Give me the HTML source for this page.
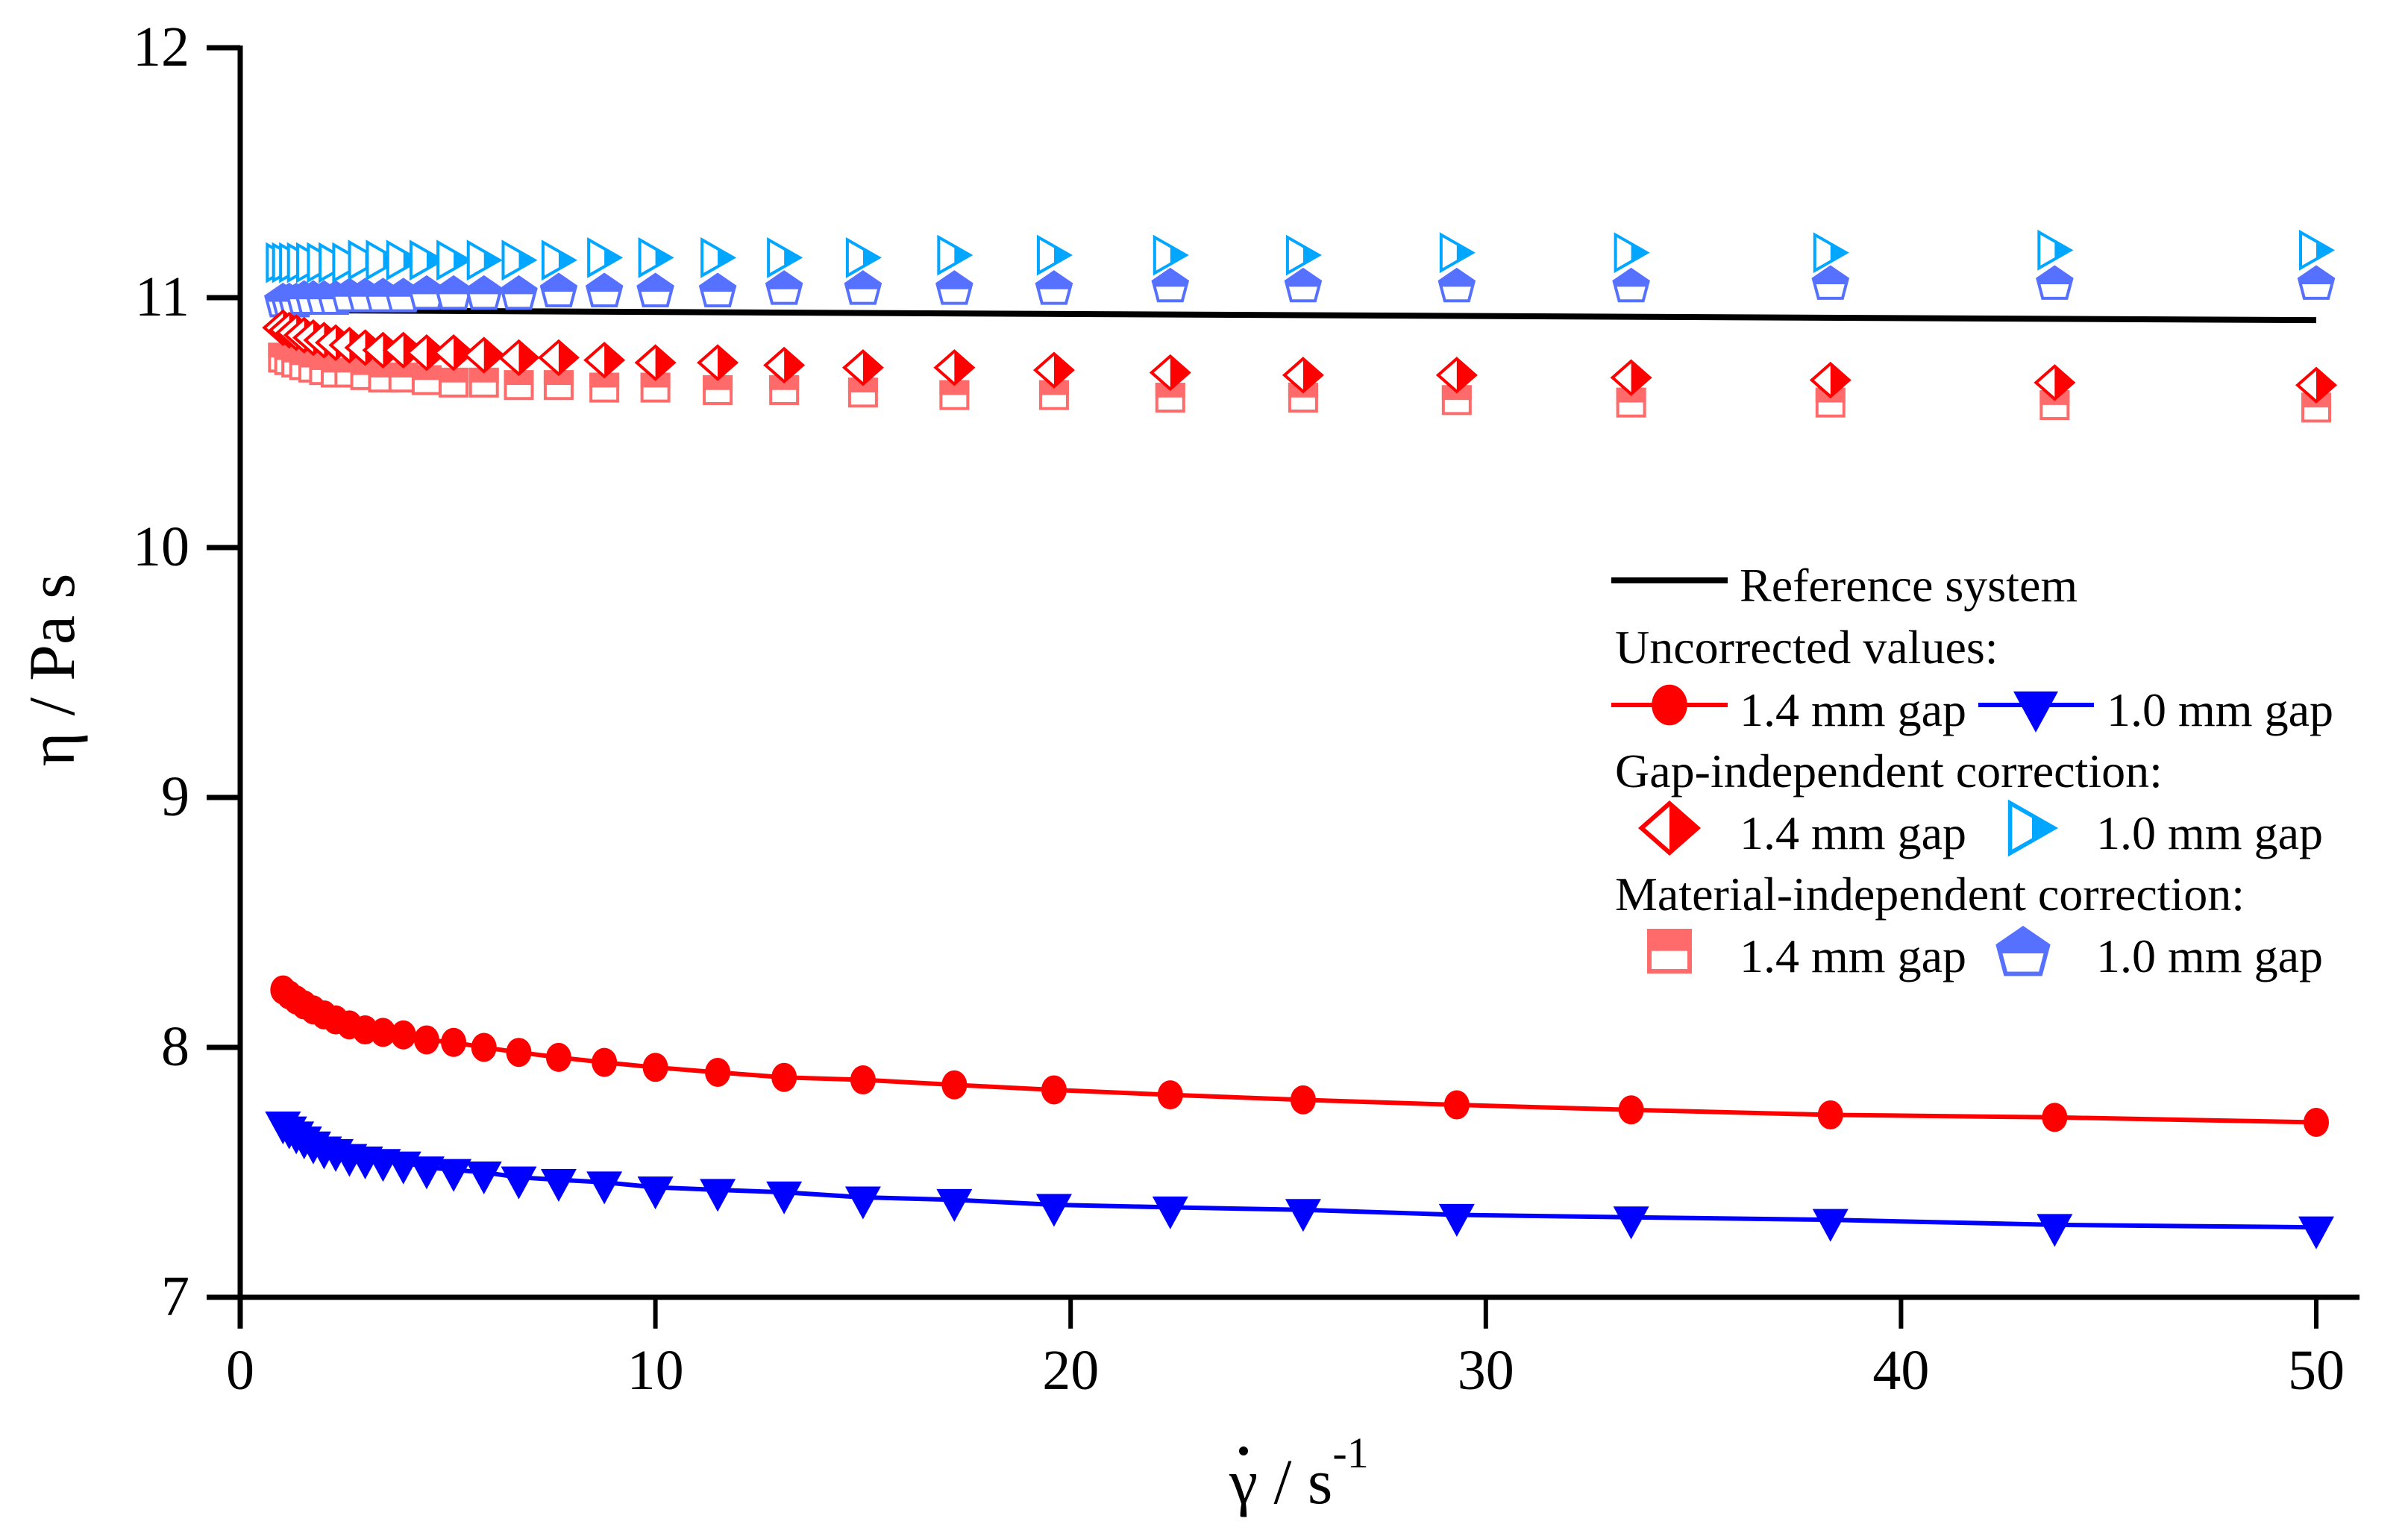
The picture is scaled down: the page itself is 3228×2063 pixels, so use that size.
<!DOCTYPE html>
<html><head><meta charset="utf-8"><style>
html,body{margin:0;padding:0;background:#fff;}
svg{display:block;}
svg text{font-family:"Liberation Serif","Times New Roman",serif;}
</style></head><body>
<svg id="chart" width="3228" height="2063" viewBox="0 0 3228 2063" font-family="Liberation Serif, serif">
<g id="axes"></g>
<g id="marks"></g>
<g id="legend"></g>
</svg>
<script>
const shearRates = [1.03, 1.18, 1.35, 1.54, 1.76, 2.02, 2.30, 2.63, 3.01, 3.44, 3.93, 4.49, 5.14, 5.87, 6.71, 7.67, 8.77, 10.0, 11.5, 13.1, 15.0, 17.2, 19.6, 22.4, 25.6, 29.3, 33.5, 38.3, 43.7, 50];
const refX = [1, 50];
const refY = [10.95, 10.91];
const uncorr14 = [8.23,8.21,8.19,8.17,8.15,8.13,8.11,8.09,8.07,8.06,8.05,8.03,8.02,8.00,7.98,7.96,7.94,7.92,7.90,7.88,7.87,7.85,7.83,7.81,7.79,7.77,7.75,7.73,7.72,7.70];
const uncorr10 = [7.70,7.68,7.66,7.64,7.62,7.60,7.59,7.57,7.56,7.55,7.54,7.52,7.51,7.50,7.48,7.47,7.46,7.44,7.43,7.42,7.40,7.39,7.37,7.36,7.35,7.33,7.32,7.31,7.29,7.28];
const gap14 = [10.88,10.87,10.86,10.85,10.84,10.83,10.82,10.81,10.80,10.79,10.79,10.78,10.78,10.77,10.76,10.76,10.75,10.74,10.74,10.73,10.72,10.72,10.71,10.70,10.69,10.69,10.68,10.67,10.66,10.65];
const gap10 = [11.14,11.14,11.14,11.14,11.14,11.14,11.14,11.14,11.15,11.15,11.15,11.15,11.15,11.15,11.15,11.15,11.16,11.16,11.16,11.16,11.16,11.17,11.17,11.17,11.17,11.18,11.18,11.18,11.19,11.19];
const mat14 = [10.76,10.75,10.74,10.73,10.72,10.71,10.70,10.70,10.69,10.68,10.68,10.67,10.66,10.66,10.65,10.65,10.64,10.64,10.63,10.63,10.62,10.61,10.61,10.60,10.60,10.59,10.58,10.58,10.57,10.56];
const mat10 = [10.99,10.99,10.99,11.00,11.00,11.00,11.00,11.01,11.01,11.01,11.01,11.02,11.02,11.02,11.02,11.03,11.03,11.03,11.03,11.04,11.04,11.04,11.04,11.05,11.05,11.05,11.05,11.06,11.06,11.06];
const xTicks = [0, 10, 20, 30, 40, 50];
const yTicks = [7, 8, 9, 10, 11, 12];

const NS = "http://www.w3.org/2000/svg";
const FONT = "Liberation Serif, serif";
const X0 = 322, X1 = 3105, Y7 = 1739, Y12 = 64;
function sx(v){ return X0 + (v - 0) / 50 * (X1 - X0); }
function sy(v){ return Y7 - (v - 7) / 5 * (Y7 - Y12); }
function mk(tag, attrs, parent){ const e = document.createElementNS(NS, tag); for (const k in attrs) e.setAttribute(k, attrs[k]); parent.appendChild(e); return e; }

const axes = document.getElementById('axes');
const marks = document.getElementById('marks');
const legend = document.getElementById('legend');

let yl = mk('line', {x1: X0, y1: Y12 - 3, x2: X0, y2: Y7 + 42, stroke: '#000', 'stroke-width': 7}, axes);


let xl = mk('line', {x1: X0 - 45, y1: Y7, x2: 3163, y2: Y7, stroke: '#000', 'stroke-width': 7}, axes);



yTicks.forEach(t => {
  const y = sy(t);
  const tk = mk('line', {x1: X0 - 45, y1: y, x2: X0, y2: y, stroke: '#000', 'stroke-width': 7}, axes);
  
  
  const tx = mk('text', {x: 254, y: y + 24, 'font-size': 76, 'text-anchor': 'end', 'font-family': FONT}, axes);
  tx.textContent = String(t);
  
  
});
xTicks.forEach(t => {
  const x = sx(t);
  const tk = mk('line', {x1: x, y1: Y7, x2: x, y2: Y7 + 42, stroke: '#000', 'stroke-width': 6}, axes);
  
  
  const tx = mk('text', {x: x, y: 1862, 'font-size': 76, 'text-anchor': 'middle', 'font-family': FONT}, axes);
  tx.textContent = String(t);
  
  
});
let yt = mk('text', {x: 0, y: 0, 'font-size': 88, 'text-anchor': 'middle', 'font-family': FONT, transform: 'translate(99,898) rotate(-90)'}, axes);
yt.textContent = 'η / Pa s';


let xt = mk('text', {x: 1648, y: 2015, 'font-size': 86, 'font-family': FONT}, axes);
xt.innerHTML = 'γ / s<tspan dy="-48" font-size="58">-1</tspan>';


let dot = mk('circle', {cx: 1667, cy: 1945, r: 6, fill: '#000'}, axes);



function circle(g, x, y, s){ mk('ellipse', {cx: x, cy: y, rx: 17*s, ry: 19.5*s, fill: '#ff0000'}, g); }
function triDown(g, x, y, s){ const w=24*s, h=44*s; mk('polygon', {points: `${x-w},${y-h*0.33} ${x+w},${y-h*0.33} ${x},${y+h*0.67}`, fill: '#0000ff'}, g); }
function diamond(g, x, y, s){ const w=25*s, h=22*s;
  mk('polygon', {points: `${x},${y-h} ${x+w},${y} ${x},${y+h} ${x-w},${y}`, fill: '#fff', stroke: '#ff0000', 'stroke-width': 4*s}, g);
  mk('polygon', {points: `${x},${y-h} ${x+w},${y} ${x},${y+h}`, fill: '#ff0000'}, g); }
function triRight(g, x, y, s){ const w=21*s, h=24*s;
  mk('polygon', {points: `${x-w},${y-h} ${x+w},${y} ${x-w},${y+h}`, fill: '#fff', stroke: '#00a6ff', 'stroke-width': 4*s}, g);
  mk('polygon', {points: `${x},${y-h*0.5} ${x+w},${y} ${x},${y+h*0.5}`, fill: '#00a6ff'}, g); }
function square(g, x, y, s){ const w=18*s, h=18*s;
  mk('rect', {x: x-w, y: y-h, width: 2*w, height: 2*h, fill: '#fff', stroke: '#ff6b6b', 'stroke-width': 4*s}, g);
  mk('rect', {x: x-w-2*s, y: y-h-2*s, width: 2*w+4*s, height: h*1.1, fill: '#ff6b6b'}, g); }
function pentagon(g, x, y, s){ const w=23*s, h=21*s;
  mk('polygon', {points: `${x},${y-h} ${x+w},${y-h*0.25} ${x+w*0.7},${y+h} ${x-w*0.7},${y+h} ${x-w},${y-h*0.25}`, fill: '#fff', stroke: '#5670ff', 'stroke-width': 4*s}, g);
  mk('polygon', {points: `${x},${y-h-2*s} ${x+w+2*s},${y-h*0.25} ${x+w*0.93},${y+h*0.1} ${x-w*0.93},${y+h*0.1} ${x-w-2*s},${y-h*0.25}`, fill: '#5670ff'}, g); }

function series(name, vals, color, drawer, line){
  const g = mk('g', {}, marks);
  
  
  if (line){
    const pts = shearRates.map((x,i)=>`${sx(x)},${sy(vals[i])}`).join(' ');
    const pl = mk('polyline', {points: pts, fill: 'none', stroke: color, 'stroke-width': 6}, g);
    
    
  }
  shearRates.forEach((x,i)=>{ drawer(g, sx(x), sy(vals[i]), 1); });
}

const ref = mk('polyline', {points: refX.map((x,i)=>`${sx(x)},${sy(refY[i])}`).join(' '), fill: 'none', stroke: '#000', 'stroke-width': 8}, marks);



series('uncorrected-1.4mm-series', uncorr14, '#ff0000', circle, true);
series('uncorrected-1.0mm-series', uncorr10, '#0000ff', triDown, true);
series('material-corrected-1.0mm-series', mat10, '#5670ff', pentagon, false);
series('gap-corrected-1.0mm-series', gap10, '#00a6ff', triRight, false);
series('material-corrected-1.4mm-series', mat14, '#ff6b6b', square, false);
series('gap-corrected-1.4mm-series', gap14, '#ff0000', diamond, false);

function ltext(x, y, str, name){
  const t = mk('text', {x: x, y: y, 'font-size': 64, 'font-family': FONT}, legend);
  t.textContent = str;
  
  
}
const rows = [778, 861, 945, 1027, 1110, 1192, 1275];
let l1 = mk('line', {x1: 2160, y1: rows[0], x2: 2316, y2: rows[0], stroke: '#000', 'stroke-width': 8}, legend);


ltext(2332, rows[0]+28, 'Reference system', 'legend-reference-label');
ltext(2165, rows[1]+28, 'Uncorrected values:', 'legend-uncorrected-header');
let l2 = mk('line', {x1: 2160, y1: rows[2], x2: 2316, y2: rows[2], stroke: '#ff0000', 'stroke-width': 6}, legend);


circle(legend, 2238, rows[2], 1.4);
ltext(2332, rows[2]+28, '1.4 mm gap', 'legend-uncorrected-1.4-label');
let l3 = mk('line', {x1: 2652, y1: rows[2], x2: 2807, y2: rows[2], stroke: '#0000ff', 'stroke-width': 6}, legend);


triDown(legend, 2729, rows[2], 1.25);
ltext(2824, rows[2]+28, '1.0 mm gap', 'legend-uncorrected-1.0-label');
ltext(2165, rows[3]+28, 'Gap-independent correction:', 'legend-gap-header');
diamond(legend, 2238, rows[4], 1.5);
ltext(2332, rows[4]+28, '1.4 mm gap', 'legend-gap-1.4-label');
triRight(legend, 2724, rows[4], 1.4);
ltext(2810, rows[4]+28, '1.0 mm gap', 'legend-gap-1.0-label');
ltext(2165, rows[5]+28, 'Material-independent correction:', 'legend-material-header');
square(legend, 2238, rows[6], 1.5);
ltext(2332, rows[6]+28, '1.4 mm gap', 'legend-material-1.4-label');
pentagon(legend, 2712, rows[6], 1.45);
ltext(2810, rows[6]+28, '1.0 mm gap', 'legend-material-1.0-label');
</script>
</body></html>
